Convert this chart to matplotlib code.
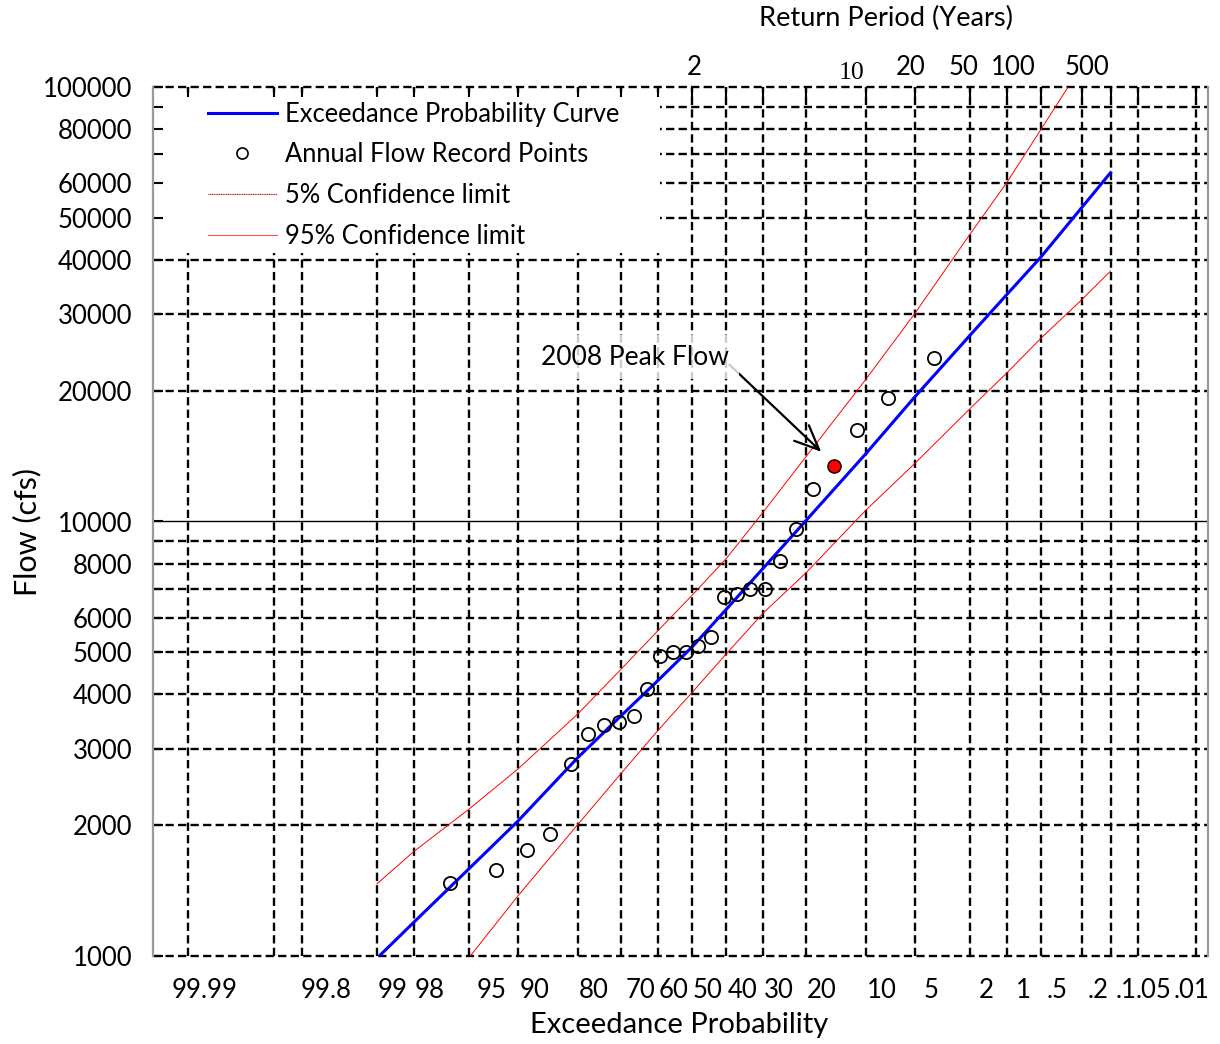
import numpy as np
import matplotlib
matplotlib.use('Agg')
import matplotlib.pyplot as plt
import matplotlib.transforms as mtransforms
from matplotlib.lines import Line2D
from matplotlib.patches import Rectangle
from statistics import NormalDist

plt.rcParams['font.family'] = ['Lato', 'DejaVu Sans']

# exceedance probability (%) of the gridlines and their labels
grid_p = [99.99, 99.9, 99.8, 99, 98, 95, 90, 80, 70, 60, 50, 40, 30, 20,
          10, 5, 2, 1, 0.5, 0.2, 0.1, 0.05, 0.01]
grid_lab = ['99.99', '', '99.8', '99', '98', '95', '90', '80', '70', '60', '50',
            '40', '30', '20', '10', '5', '2', '1', '.5', '.2', '.1', '.05', '.01']

# flow gridlines and labels
grid_q = [1000, 2000, 3000, 4000, 5000, 6000, 7000, 8000, 9000, 10000,
          20000, 30000, 40000, 50000, 60000, 70000, 80000, 90000, 100000]
q_lab = ['1000', '2000', '3000', '4000', '5000', '6000', '', '8000', '', '10000',
         '20000', '30000', '40000', '50000', '60000', '', '80000', '', '100000']

return_periods = [2, 10, 20, 50, 100, 500]

# fitted curve and confidence limits
curve_p = [99, 98, 95, 90, 80, 70, 60, 50, 40, 30, 20, 10, 5, 2, 1, 0.5, 0.2, 0.1]
curve_q = [988, 1196, 1590, 2050, 2865, 3570, 4300, 5140, 6280, 7800, 10050,
           14300, 19350, 26850, 33340, 40600, 52800, 63500]
upper_q = [1466, 1740, 2180, 2700, 3610, 4570, 5600, 6760, 8220, 10500, 14100,
           21200, 30100, 45900, 60400, 79800, 112000, 145000]
lower_q = [506, 670, 993, 1380, 2010, 2630, 3300, 4040, 4960, 6150, 7620,
           10600, 13600, 18200, 22000, 26400, 32400, 37700]

# annual flow record (ranked), plotting position in %
rec_p = [3.7, 7.4, 11.1, 14.8, 18.5, 22.2, 25.9, 29.6, 33.3, 37.0, 40.7, 44.4, 48.1,
         51.9, 55.6, 59.3, 63.0, 66.7, 70.4, 74.1, 77.8, 81.5, 85.2, 88.9, 92.6, 96.3]
rec_q = [23800, 19200, 16200, 13400, 11900, 9600, 8130, 6990, 6980, 6800, 6720, 5430,
         5170, 5010, 5010, 4900, 4110, 3560, 3450, 3400, 3240, 2770, 1910, 1750, 1580, 1470]
peak_idx = 3  # 2008

nd = NormalDist()


def fwd(p):
    p = np.clip(np.asarray(p, dtype=float), 1e-7, 100 - 1e-7)
    return np.vectorize(lambda v: nd.inv_cdf(1 - v / 100), otypes=[float])(p)


def inv(z):
    z = np.asarray(z, dtype=float)
    return np.vectorize(lambda v: 100 * (1 - nd.cdf(v)), otypes=[float])(z)


fig = plt.figure(figsize=(12.2, 10.44), dpi=100)
ax = fig.add_axes([153 / 1220, 88 / 1044, 1055 / 1220, 869 / 1044])
ax.set_xscale('function', functions=(fwd, inv))
ax.set_yscale('log')

dash = (0, (3.5, 1.8))
for p in grid_p:
    ax.axvline(p, color='black', lw=1.7, ls=dash, zorder=1)
for q in grid_q:
    edge = q in (grid_q[0], grid_q[-1])
    if q == 10000:
        ax.axhline(q, color='black', lw=1.0, zorder=1)
    else:
        ax.axhline(q, color='black', lw=1.7, ls=dash, zorder=2 if edge else 1,
                   clip_on=False)

# white legend area covering the grid
ax.add_patch(Rectangle((0, 41500), 0.4806, 100000 - 41500 - 3000,
                       transform=mtransforms.blended_transform_factory(ax.transAxes, ax.transData),
                       facecolor='white', edgecolor='none', zorder=1.5))

ax.plot(curve_p, upper_q, color='red', lw=0.7, zorder=3)
ax.plot(curve_p, lower_q, color='red', lw=0.7, zorder=3)
ax.plot(curve_p, curve_q, color='blue', lw=2.2, zorder=4)
others = [i for i in range(len(rec_p)) if i != peak_idx]
ax.plot([rec_p[i] for i in others], [rec_q[i] for i in others], ls='none', marker='o',
        ms=9.5, mfc='none', mec='black', mew=1.3, zorder=5)
ax.plot([rec_p[peak_idx]], [rec_q[peak_idx]], ls='none', marker='o', ms=9.5,
        mfc='red', mec='black', mew=1.0, zorder=5)

ax.set_xlim(inv(3.81), inv(-3.98))
ax.set_ylim(1000, 100000)

ax.set_xticks(grid_p)
ax.set_xticklabels([])
ax.xaxis.set_minor_locator(matplotlib.ticker.NullLocator())
ax.set_yticks(grid_q)
ax.set_yticklabels(q_lab)
ax.yaxis.set_minor_locator(matplotlib.ticker.NullLocator())
ax.tick_params(axis='x', direction='in', length=7, width=1.5, top=True, bottom=False)
ax.tick_params(axis='y', direction='in', length=7, width=1.5, labelsize=18.5, pad=15)

for s in ('top', 'bottom'):
    ax.spines[s].set_visible(False)
for s in ('left', 'right'):
    ax.spines[s].set_color('#9a9a9a')
    ax.spines[s].set_linewidth(1.6)

# bottom probability labels (sit a little right of their gridline)
blend = mtransforms.blended_transform_factory(ax.transData, ax.transAxes)
nudge = {'.01': -4, '99.8': 24, '95': 22, '70': 20}
for p, lab in zip(grid_p, grid_lab):
    if not lab:
        continue
    tr = mtransforms.offset_copy(blend, fig=fig, x=nudge.get(lab, 16), y=-34, units='dots')
    ax.text(p, 0, lab, transform=tr, ha='center', va='center', fontsize=18.5)

# top return period labels
top_nudge = {2: 2, 10: -14, 20: -4, 50: -7, 100: 6, 500: 5}
for t in return_periods:
    if t == 10:
        tr = mtransforms.offset_copy(blend, fig=fig, x=top_nudge[t], y=14, units='dots')
        ax.text(100 / t, 1, str(t), transform=tr, ha='center', va='center',
                fontsize=18.5, family=['Liberation Serif', 'DejaVu Serif'])
    else:
        tr = mtransforms.offset_copy(blend, fig=fig, x=top_nudge[t], y=19, units='dots')
        ax.text(100 / t, 1, str(t), transform=tr, ha='center', va='center', fontsize=18.5)

fig.text(886 / 1220, 1 - 18 / 1044, 'Return Period (Years)', ha='center', va='center', fontsize=19.6)
fig.text(679 / 1220, 1 - 1025 / 1044, 'Exceedance Probability', ha='center', va='center', fontsize=21)
fig.text(27 / 1220, 1 - 532 / 1044, 'Flow (cfs)', ha='center', va='center', rotation=90, fontsize=22)

ax.annotate('2008 Peak Flow', xy=(17.0, 14470), xytext=(66.2, 23900),
            ha='center', va='center', fontsize=19, zorder=6,
            bbox=dict(boxstyle='square,pad=0.35', fc='white', ec='none', alpha=0.8),
            arrowprops=dict(arrowstyle='->,head_length=0.8,head_width=0.35', color='black',
                            lw=1.6, mutation_scale=22, shrinkA=0, shrinkB=0,
                            patchA=None, relpos=(1.0, 0.2)))

handles = [
    Line2D([], [], color='blue', lw=2.2),
    Line2D([], [], ls='none', marker='o', ms=8, mfc='none', mec='black', mew=1.2),
    Line2D([], [], color='#d00000', lw=0.8, ls=(0, (1, 0.6))),
    Line2D([], [], color='#ff5050', lw=0.8),
]
labels = ['Exceedance Probability Curve', 'Annual Flow Record Points',
          '5% Confidence limit', '95% Confidence limit']
leg = ax.legend(handles, labels, loc='upper left', bbox_to_anchor=(0.052, 0.983),
                frameon=False, fontsize=18.4, handlelength=2.7, handletextpad=0.3,
                labelspacing=0.61, borderpad=0, borderaxespad=0)
leg.set_zorder(6)

fig.savefig('out.png', dpi=100)
